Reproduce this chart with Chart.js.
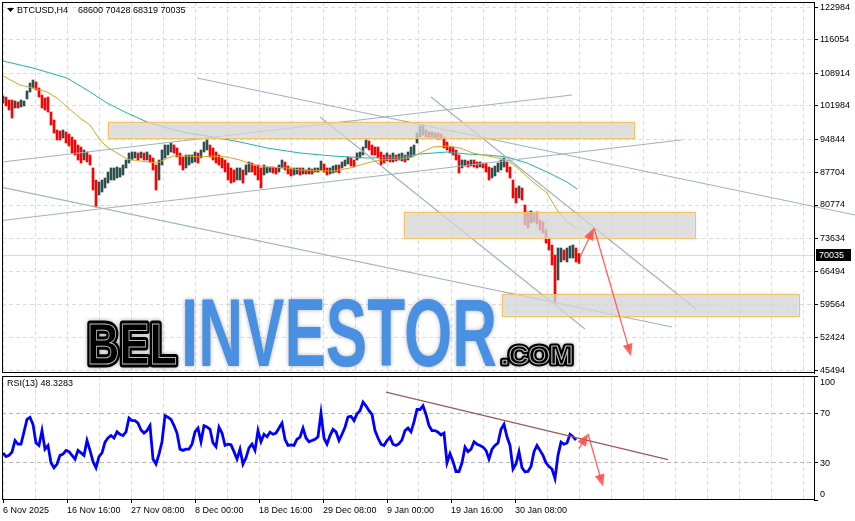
<!DOCTYPE html>
<html>
<head>
<meta charset="utf-8">
<script src="https://cdn.jsdelivr.net/npm/chart.js@4.4.1/dist/chart.umd.min.js"></script>
<style>
  html, body { margin: 0; padding: 0; background: #fff; }
  #wrap { position: relative; width: 855px; height: 521px; overflow: hidden; }
  #main { position: absolute; left: 0; top: 0; }
  #rsi { position: absolute; left: 0; top: 375px; }
</style>
</head>
<body>
<div id="wrap">
  <canvas id="main" width="855" height="375"></canvas>
  <canvas id="rsi" width="855" height="146"></canvas>
</div>
<script>
// ---- data (bar index = H4 bars since 6 Nov 2025) ----
const symbol = 'BTCUSD,H4';
const lastOHLC = [68600, 70428, 68319, 70035];
const rsiValueText = '48.3283';

const dateLabels = ['6 Nov 2025', '16 Nov 16:00', '27 Nov 08:00', '8 Dec 00:00', '18 Dec 16:00',
  '29 Dec 08:00', '9 Jan 00:00', '19 Jan 16:00', '30 Jan 08:00'];
const priceTicks = [122984, 116054, 108914, 101984, 94844, 87704, 80774, 73634, 66494, 59564, 52424, 45494];
const rsiTicks = [100, 70, 30, 0];

// candles sampled every 3 bars: high / low
const candleStep = 3;
const candleHigh = [
  104050,103830,103190,103190,102980,102770,103190,102980,105120,106820,
  107460,107040,105760,104260,103620,103830,100630,98920,96790,96570,
  96790,96360,95930,95290,94650,93590,93160,92520,92090,91450,
  88680,86110,85690,86110,86540,87820,88680,88680,88890,88680,
  89320,90380,91880,92090,92090,91880,92090,91880,92090,91450,
  90810,89320,90380,92520,93590,93590,94010,93590,92950,91880,
  91020,91450,91450,91450,92090,91880,92520,94230,94650,93590,
  92950,92090,91450,90810,90380,89740,88680,88250,88680,88680,
  88250,89320,89960,89740,89320,89320,88680,89320,88890,88890,
  88890,88680,89320,90380,89960,89100,88680,88680,88680,88680,
  88680,88250,88680,88460,88680,88680,90170,89530,88680,88680,
  89100,89320,89320,89960,90380,91020,90810,90380,91880,92090,
  93160,94650,94440,93590,93160,93160,92090,91450,91880,91450,
  91880,91450,91660,91880,91450,92090,93160,93590,96150,97640,
  97860,96790,96360,96360,96150,96150,95930,95290,94230,93160,
  93160,92520,91450,90380,90380,90170,90380,90380,89960,89960,
  89740,89740,88890,88680,89100,89740,90380,90810,89960,88890,
  86110,84410,84830,84410,80780,79280,79500,79070,79280,77570,
  77150,75440,73730,72240,70100,71600,71600,71170,71600,72020,
  72240,71600,70428
];
const candleLow = [
  102550,101910,101060,99350,101490,101490,101700,101910,103410,104900,
  105760,105330,103830,101490,101060,100630,97860,96150,94650,94650,
  95080,94010,93370,91880,91450,90380,89740,90380,89960,89320,
  83980,80350,82910,83550,84410,85470,86110,86110,86540,86750,
  87180,88680,89740,90380,90810,90380,90810,90380,90380,89960,
  88250,83980,86110,89320,90810,91450,92090,91880,91020,89320,
  88250,88680,89320,89740,89960,89740,90810,92090,92520,91020,
  90380,89740,89320,88680,87820,86110,85470,85690,86110,86110,
  85470,87180,87820,87820,87180,86110,84410,87180,87610,87820,
  87610,87390,87820,88680,88250,87390,86970,87180,87390,87180,
  87390,87390,87390,87390,87820,87820,88250,87820,87180,87390,
  87610,87820,87610,88680,89100,89530,89100,88890,90380,90810,
  91450,92950,92520,91450,91450,90810,89320,89740,90170,89960,
  89960,90170,90380,90170,89960,90380,91020,91450,94010,95290,
  95720,95290,95080,95290,95080,94870,94870,92950,92520,91880,
  91450,90380,87610,88680,89100,88890,89100,88890,88680,88890,
  88680,87820,86110,86540,86970,87820,88250,88890,87820,86540,
  82270,81200,82270,81840,76510,75870,76930,77150,76720,75440,
  74800,72660,71170,67970,59850,64760,68610,69030,68610,69460,
  69460,68610,68319
];

// moving averages (bar, price)
const maFastBars = [0,17,30,44,54,64,77,87,97,104,114,124,137,154,170,184,197,210,224,237,250,264,284,297,330,347,364,377,397,410,417,430,444,457,470,490,504,517,530,544,554,564,574];
const maFastVals = [108317,106396,105755,104901,103620,101699,99350,97855,94653,93158,91877,90596,90169,89742,91237,91237,91023,91237,91023,90383,89315,88888,88675,88248,88034,88675,89742,90383,90596,91023,91877,93158,93372,92945,91877,91023,90383,88248,85686,83338,79708,77146,75652];
const maSlowBars = [0,30,64,84,104,124,144,164,184,210,237,264,297,330,364,397,417,444,464,484,504,524,544,564,574];
const maSlowVals = [111520,110025,107890,105328,102553,100417,98496,97215,96147,95293,94226,92945,91877,91237,90810,91023,91664,92091,91664,91450,91023,89742,87821,85686,84191];

// drawn trend lines [bar, price] pairs
const trendLines = [
  [[194, 107890], [852, 78640]],
  [[-1, 89960], [569, 104261]],
  [[-1, 77470], [678, 94653]],
  [[317, 99563], [582, 54302]],
  [[428, 103834], [693, 58571]],
  [[-1, 84530], [669, 54729]]
];

// support / resistance boxes
const zoneStart = [105, 401, 499];
const zoneEnd = [631, 692, 796];
const zoneTop = [98496, 79281, 61774];
const zoneBottom = [95080, 73730, 57077];

// forecast arrows (bar, value)
const priceArrow = [[577, 69674], [591, 75865], [628, 48537]];

// RSI(13) sampled every 3 bars
const rsiStep = 3;
const rsiValues = [
  38,35,36,38.7,48,45,45,55,65,66.7,
  61,46,44,56,41,44,30,26,29,36,
  37,40,39,36,33,40,38,36,48,40,
  31,26,35,38,46.7,50,52,50,55,53,
  52,55,66,64,64,62,56.5,54,56,60,
  33,29,37,47,68,66.7,65,60,54,41,
  40,41,41,45,55,58,47,60,59,57,
  46,43,58.7,54,44,45,44.5,39,33,41,
  29,34,42,45,40,56,47,53,51,54.7,
  53,54,58,62,49,44,44.5,44,49,50.7,
  58,50,47,48,49,51,70,50,45,52,
  57,55,48,53,58.7,67,67.5,64,69.5,72,
  79,76,72,69,56,50,45,44,48,50.7,
  45,44,45.5,48.5,56,58,55,63,73,73,
  76,69,60,56,56,54.7,52.5,54,30,37.3,
  31,23,23,30,42.7,39,41,47,45,44,
  42.7,40,33,41,44,46,57,61,51,44,
  25,29,39,26,22.7,23,27,39,44,40,
  36,30,27,25,17.3,36,46.7,45,46,53,
  51,48.3
];
const rsiTrend = [[383, 87.0], [665, 32.6]];
const rsiArrow = [[576, 41.4], [585, 53.4], [600, 11]];

// ---- look ----
const FONT = '"Liberation Sans", Arial, sans-serif';
const GRID = '#dcdcdc';
const BULL = '#2f4f4f';
const BEAR = '#ff0000';
const X_MIN = -1, X_MAX = 811;
const PRICE_MIN = 44908, PRICE_MAX = 124116;

Chart.defaults.font.family = FONT;
Chart.defaults.font.size = 9;
Chart.defaults.color = '#000';

const gridBars = [];
for (let v = 0; v <= 800; v += 32) gridBars.push(v);

const candleColors = candleHigh.map((h, i) => {
  if (i === 0) return BULL;
  const mid = (h + candleLow[i]) / 2;
  const prev = (candleHigh[i - 1] + candleLow[i - 1]) / 2;
  return mid < prev ? BEAR : BULL;
});

function drawFrame(chart) {
  const ctx = chart.ctx, ca = chart.chartArea;
  ctx.save();
  ctx.strokeStyle = '#000';
  ctx.lineWidth = 1;
  ctx.strokeRect(Math.round(ca.left) + 0.5, Math.round(ca.top) + 0.5,
    Math.round(ca.right - ca.left), Math.round(ca.bottom - ca.top) - 1);
  ctx.restore();
}

function drawArrow(ctx, x1, y1, x2, y2) {
  const ang = Math.atan2(y2 - y1, x2 - x1);
  const L = 12, W = 5;
  ctx.strokeStyle = 'rgba(255,70,70,0.85)';
  ctx.fillStyle = 'rgba(255,70,70,0.85)';
  ctx.lineWidth = 1.3;
  ctx.beginPath();
  ctx.moveTo(x1, y1);
  ctx.lineTo(x2 - Math.cos(ang) * L * 0.6, y2 - Math.sin(ang) * L * 0.6);
  ctx.stroke();
  ctx.beginPath();
  ctx.moveTo(x2, y2);
  ctx.lineTo(x2 - L * Math.cos(ang) + W * Math.sin(ang), y2 - L * Math.sin(ang) - W * Math.cos(ang));
  ctx.lineTo(x2 - L * Math.cos(ang) - W * Math.sin(ang), y2 - L * Math.sin(ang) + W * Math.cos(ang));
  ctx.closePath();
  ctx.fill();
}

function drawArrowPath(chart, pts) {
  const xs = chart.scales.x, ys = chart.scales.y, ctx = chart.ctx;
  ctx.save();
  for (let i = 1; i < pts.length; i++) {
    drawArrow(ctx,
      xs.getPixelForValue(pts[i - 1][0]), ys.getPixelForValue(pts[i - 1][1]),
      xs.getPixelForValue(pts[i][0]), ys.getPixelForValue(pts[i][1]));
  }
  ctx.restore();
}

// logo word squeezed into a box
function logoWord(ctx, text, x, baseline, width, size, mode) {
  ctx.save();
  ctx.font = 'bold ' + size + 'px "Liberation Sans Narrow", "Liberation Sans", sans-serif';
  const w = ctx.measureText(text).width;
  ctx.translate(x, baseline);
  ctx.scale(width / w, 1);
  ctx.textBaseline = 'alphabetic';
  ctx.lineJoin = 'round';
  if (mode === 'outline') {
    ctx.shadowColor = 'rgba(0,0,0,0.35)';
    ctx.shadowBlur = 4;
    ctx.strokeStyle = '#000';
    ctx.lineWidth = size > 40 ? 7 : 5;
    ctx.strokeText(text, 0, 0);
    ctx.shadowBlur = 0;
    ctx.fillStyle = '#000';
    ctx.fillText(text, 0, 0);
    ctx.strokeStyle = '#bdbdbd';
    ctx.lineWidth = 1;
    ctx.strokeText(text, 0, 0);
  } else {
    ctx.shadowColor = 'rgba(0,0,0,0.3)';
    ctx.shadowBlur = 4;
    ctx.fillStyle = '#4a90e2';
    ctx.fillText(text, 0, 0);
  }
  ctx.restore();
}

const mainDecor = {
  id: 'mainDecor',
  beforeDatasetsDraw(chart) {
    const ctx = chart.ctx, ca = chart.chartArea, ys = chart.scales.y;
    ctx.save();
    ctx.beginPath();
    ctx.rect(ca.left, ca.top, ca.right - ca.left, ca.bottom - ca.top);
    ctx.clip();
    // bid line
    const by = Math.round(ys.getPixelForValue(lastOHLC[3])) + 0.5;
    ctx.strokeStyle = '#dadada';
    ctx.lineWidth = 1;
    ctx.beginPath();
    ctx.moveTo(ca.left, by);
    ctx.lineTo(ca.right, by);
    ctx.stroke();
    // watermark
    logoWord(ctx, 'BEL', 87, 364, 90, 57, 'outline');
    logoWord(ctx, 'INVESTOR', 181, 366, 316, 96, 'fill');
    logoWord(ctx, '.COM', 501, 364, 72, 25, 'outline');
    ctx.restore();
  },
  afterDatasetsDraw(chart) {
    const ctx = chart.ctx, xs = chart.scales.x, ys = chart.scales.y;
    ctx.save();
    zoneStart.forEach((s, i) => {
      const x1 = Math.round(xs.getPixelForValue(s)), x2 = Math.round(xs.getPixelForValue(zoneEnd[i]));
      const y1 = Math.round(ys.getPixelForValue(zoneTop[i])), y2 = Math.round(ys.getPixelForValue(zoneBottom[i]));
      ctx.shadowColor = 'rgba(0,0,0,0.18)';
      ctx.shadowBlur = 4;
      ctx.fillStyle = 'rgba(222,222,222,0.75)';
      ctx.fillRect(x1, y1, x2 - x1, y2 - y1);
      ctx.shadowBlur = 0;
      ctx.strokeStyle = '#f3c265';
      ctx.lineWidth = 1;
      ctx.strokeRect(x1 + 0.5, y1 + 0.5, x2 - x1, y2 - y1);
    });
    ctx.restore();
    drawArrowPath(chart, priceArrow);
  },
  afterDraw(chart) {
    const ctx = chart.ctx, ys = chart.scales.y;
    drawFrame(chart);
    ctx.save();
    // header
    ctx.fillStyle = '#000';
    ctx.beginPath();
    ctx.moveTo(7, 8); ctx.lineTo(14, 8); ctx.lineTo(10.5, 12);
    ctx.closePath();
    ctx.fill();
    ctx.font = '9px ' + FONT;
    ctx.textBaseline = 'middle';
    ctx.fillText(symbol, 17, 10.5);
    ctx.fillText(lastOHLC.join(' '), 78, 10.5);
    // last price box
    const py = Math.round(ys.getPixelForValue(lastOHLC[3]));
    ctx.fillStyle = '#000';
    ctx.fillRect(816, py - 6, 35, 12);
    ctx.fillStyle = '#fff';
    ctx.fillText(String(lastOHLC[3]), 819, py + 0.5);
    ctx.restore();
  }
};

const rsiDecor = {
  id: 'rsiDecor',
  afterDatasetsDraw(chart) {
    drawArrowPath(chart, rsiArrow);
  },
  afterDraw(chart) {
    const ctx = chart.ctx, ys = chart.scales.y, ca = chart.chartArea;
    drawFrame(chart);
    ctx.save();
    ctx.fillStyle = '#000';
    ctx.font = '9px ' + FONT;
    ctx.textBaseline = 'middle';
    ctx.fillText('RSI(13) ' + rsiValueText, 7, ca.top + 8);
    rsiTicks.forEach(v => {
      let y = ys.getPixelForValue(v);
      if (v === 100) y += 6;
      if (v === 0) y -= 6;
      ctx.fillText(String(v), 820, y + 0.5);
    });
    ctx.restore();
  }
};

const xGridScale = (extra) => Object.assign({
  type: 'linear', min: X_MIN, max: X_MAX, offset: false,
  afterBuildTicks: s => { s.ticks = gridBars.map(v => ({ value: v })); },
  grid: { color: GRID, offset: false, drawTicks: false },
  border: { display: false, dash: [4, 3] }
}, extra);

const lineDs = (data, color, width, order, extra) => Object.assign({
  type: 'line', data, borderColor: color, borderWidth: width, pointRadius: 0,
  fill: false, tension: 0, order
}, extra || {});

// ---- main price panel ----
new Chart(document.getElementById('main'), {
  type: 'line',
  data: {
    datasets: [
      {
        type: 'bar',
        data: candleHigh.map((h, i) => ({ x: i * candleStep, y: [candleLow[i], h] })),
        backgroundColor: candleColors,
        barThickness: 2,
        grouped: false,
        order: 5
      },
      lineDs(maFastBars.map((b, i) => ({ x: b, y: maFastVals[i] })), '#daa520', 1, 3),
      lineDs(maSlowBars.map((b, i) => ({ x: b, y: maSlowVals[i] })), '#20b2aa', 1, 3),
      ...trendLines.map((seg, i) => lineDs(seg.map(p => ({ x: p[0], y: p[1] })), '#9fb3c1', 1.2, 1,
        i === 0 ? { clip: false } : {}))
    ]
  },
  options: {
    responsive: false, animation: false, devicePixelRatio: 1, events: [],
    layout: { padding: { left: 2, top: 2, right: 0, bottom: 2 } },
    plugins: { legend: { display: false }, tooltip: { enabled: false } },
    scales: {
      x: xGridScale({
        ticks: { display: false },
        afterFit: s => { s.height = 0; s.paddingLeft = 0; s.paddingRight = 0; }
      }),
      y: {
        type: 'linear', position: 'right', min: PRICE_MIN, max: PRICE_MAX,
        afterBuildTicks: s => { s.ticks = priceTicks.map(v => ({ value: v })); },
        afterFit: s => { s.width = 41; s.paddingTop = 0; s.paddingBottom = 0; },
        ticks: { padding: 2, color: '#000', font: { size: 9 }, callback: v => String(v) },
        grid: { color: GRID, tickColor: '#000', tickLength: 4, tickBorderDash: [] },
        border: { display: true, color: '#000', dash: [4, 3] }
      }
    }
  },
  plugins: [mainDecor]
});

// ---- RSI panel ----
new Chart(document.getElementById('rsi'), {
  type: 'line',
  data: {
    datasets: [
      lineDs(rsiValues.map((v, i) => ({ x: i * rsiStep, y: v })), '#0000ff', 2.8, 2),
      lineDs(rsiTrend.map(p => ({ x: p[0], y: p[1] })), '#9b5a5a', 1.3, 1)
    ]
  },
  options: {
    responsive: false, animation: false, devicePixelRatio: 1, events: [],
    layout: { padding: { left: 2, top: 1, right: 0, bottom: 0 } },
    plugins: { legend: { display: false }, tooltip: { enabled: false } },
    scales: {
      x: xGridScale({
        afterFit: s => { s.height = 21; s.paddingLeft = 0; s.paddingRight = 0; },
        ticks: {
          autoSkip: false, maxRotation: 0, align: 'start', padding: 2, color: '#000', font: { size: 9 },
          callback: v => (v % 64 === 0 && dateLabels[v / 64]) ? dateLabels[v / 64] : ''
        },
        grid: {
          color: GRID, offset: false, drawTicks: true, tickLength: 3, tickBorderDash: [],
          tickColor: c => (c.tick && c.tick.value % 64 === 0 && dateLabels[c.tick.value / 64]) ? '#000' : 'rgba(0,0,0,0)'
        }
      }),
      y: {
        type: 'linear', position: 'right', min: 0, max: 100,
        afterBuildTicks: s => { s.ticks = rsiTicks.map(v => ({ value: v })); },
        afterFit: s => { s.width = 41; s.paddingTop = 0; s.paddingBottom = 0; },
        ticks: { display: false },
        grid: {
          color: c => (c.tick && (c.tick.value === 30 || c.tick.value === 70)) ? '#b9b9b9' : 'rgba(0,0,0,0)',
          tickColor: '#000', tickLength: 4, tickBorderDash: []
        },
        border: { display: true, color: '#000', dash: [4, 3] }
      }
    }
  },
  plugins: [rsiDecor]
});
</script>
</body>
</html>
